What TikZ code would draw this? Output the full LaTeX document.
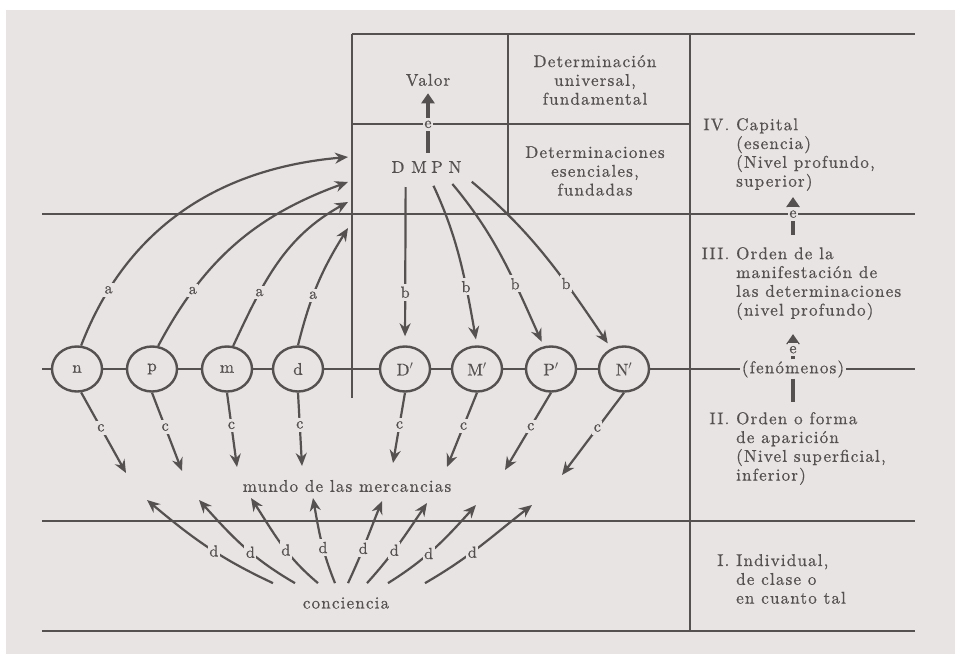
\documentclass[tikz,border=0pt]{standalone}
\usepackage{fontspec}
\setmainfont{lmroman10-regular.otf}[LetterSpace=7,FakeBold=0.7]
\usetikzlibrary{arrows.meta,shapes.geometric}
\definecolor{paper}{RGB}{232,228,227}
\definecolor{ink}{RGB}{86,81,81}
\begin{document}
\begin{tikzpicture}[x=1pt,y=1pt,
  rule/.style={draw=ink,line width=2.4pt},
  term/.style={ellipse,draw=ink,line width=2.4pt,fill=paper,text=ink,minimum width=50pt,minimum height=45pt,inner sep=0pt,font=\fontsize{17}{18.8}\selectfont},
  txt/.style={text=ink,inner sep=1pt,font=\fontsize{17}{18.8}\selectfont},
  lbl/.style={text=ink,fill=paper,inner xsep=1.5pt,inner ysep=3pt,font=\fontsize{16}{16}\selectfont},
  arr/.style={draw=ink,line width=2.2pt,-{Stealth[length=13pt,width=11pt]}},
  bigarr/.style={draw=ink,line width=3.6pt,-{Triangle[length=10pt,width=13pt]}},
  bar/.style={draw=ink,line width=3.6pt}]
\fill[paper] (6,0) rectangle (955,644);
\useasboundingbox (0,0) rectangle (955,654);
% Drawing frame lines
\draw[rule] (352,620) -- (915,620);
\draw[rule] (352,530) -- (690,530);
\draw[rule] (42,440) -- (915,440);
\draw[rule] (42,285) -- (915,285);
\draw[rule] (42,133) -- (915,133);
\draw[rule] (42,23) -- (915,23);
\draw[rule] (352,620) -- (352,256);
\draw[rule] (508,620) -- (508,440);
\draw[rule] (690,620) -- (690,23);
% Done with lines; drawing the row of terms
\node[term] (n) at (77,285) {n};
\node[term] (p) at (152,285) {p};
\node[term] (m) at (227,285) {m};
\node[term] (d) at (298,285) {d};
\node[term] (Dp) at (405,285) {D$'$};
\node[term] (Mp) at (477,285) {M$'$};
\node[term] (Pp) at (551,285) {P$'$};
\node[term] (Np) at (624,285) {N$'$};
% Texts
\node[txt] (valor) at (428,574) {Valor};
\node[txt,align=center] (univ) at (595,574) {Determinación\\universal,\\fundamental};
\node[txt,align=center] (esen) at (595,483) {Determinaciones\\esenciales,\\fundadas};
\node[txt] (lD) at (398,487) {D};
\node[txt] (lM) at (419,487) {M};
\node[txt] (lP) at (437,487) {P};
\node[txt] (lN) at (455,487) {N};
\node[txt] (mundo) at (347,168) {mundo de las mercancias};
\node[txt] (conc) at (346,51) {conciencia};
\node[txt,align=left,anchor=north west] (lvIV) at (735,537) {\llap{IV.~}Capital\\(esencia)\\(Nivel profundo,\\superior)};
\node[txt,align=left,anchor=north west] (lvIII) at (735,408) {\llap{III.~}Orden de la\\manifestación de\\las determinaciones\\(nivel profundo)};
\node[txt,align=left,anchor=north west] (lvII) at (735,243) {\llap{II.~}Orden o forma\\de aparición\\(Nivel superficial,\\inferior)};
\node[txt,align=left,anchor=north west] (lvI) at (735,101) {\llap{I.~}Individual,\\de clase o\\en cuanto tal};
\node[txt,fill=paper,inner xsep=2pt] (fen) at (793,285) {(fenómenos)};
% Free ends
\coordinate (a1) at (348,497);
\coordinate (a2) at (348,472);
\coordinate (a3) at (348,452);
\coordinate (a4) at (348,426);
\coordinate (c1) at (126,181);
\coordinate (c2) at (182,183);
\coordinate (c3) at (237,187);
\coordinate (c4) at (302,188);
\coordinate (c5) at (393,191);
\coordinate (c6) at (447,187);
\coordinate (c7) at (505,184);
\coordinate (c8) at (562,179);
\coordinate (d1) at (147,154);
\coordinate (d2) at (199,154);
\coordinate (d3) at (251,156);
\coordinate (d4) at (313,156);
\coordinate (d5) at (382,153);
\coordinate (d6) at (427,151);
\coordinate (d7) at (476,149);
\coordinate (d8) at (532,149);
% Arrows a: up into the essence
\draw[arr] (n.80) to[out=69,in=185] node[lbl,pos=0.17] {a} (a1);
\draw[arr] (p.75) to[out=62,in=200] node[lbl,pos=0.24] {a} (a2);
\draw[arr] (m.75) to[out=65,in=209] node[lbl,pos=0.3] {a} (a3);
\draw[arr] (d.north) to[out=76,in=238] node[lbl,pos=0.4] {a} (a4);
% Arrows b: down to the forms
\draw[arr,shorten <=13pt,shorten >=9pt] (lD.south east) -- (Dp.north) node[lbl,pos=0.69] {b};
\draw[arr,shorten <=13pt,shorten >=6pt] (lM.south east) to[out=-65,in=100] node[lbl,pos=0.68] {b} (Mp.north);
\draw[arr,shorten <=13pt,shorten >=5pt] (lP.south east) to[out=-50,in=114] node[lbl,pos=0.67] {b} (Pp.108);
\draw[arr,shorten <=12pt,shorten >=6pt] (lN.south east) to[out=-40,in=124] node[lbl,pos=0.67] {b} (Np.122);
% Arrows c: into the world of commodities
\draw[arr] (n.-80) -- (c1) node[lbl,pos=0.44] {c};
\draw[arr] (p.south) -- (c2) node[lbl,pos=0.44] {c};
\draw[arr] (m.south) -- (c3) node[lbl,pos=0.44] {c};
\draw[arr] (d.south) -- (c4) node[lbl,pos=0.44] {c};
\draw[arr] (Dp.south) -- (c5) node[lbl,pos=0.46] {c};
\draw[arr] (Mp.south) -- (c6) node[lbl,pos=0.45] {c};
\draw[arr] (Pp.south) -- (c7) node[lbl,pos=0.44] {c};
\draw[arr] (Np.south) -- (c8) node[lbl,pos=0.43] {c};
% Arrows d: from the consciousness
\draw[arr] ([xshift=-73pt,yshift=13pt]conc.north) to[out=155,in=-40] node[lbl,pos=0.44] {d} (d1);
\draw[arr] ([xshift=-51pt,yshift=13pt]conc.north) to[out=150,in=-48] node[lbl,pos=0.42] {d} (d2);
\draw[arr] ([xshift=-28pt,yshift=13pt]conc.north) to[out=140,in=-57] node[lbl,pos=0.42] {d} (d3);
\draw[arr] ([xshift=-11pt,yshift=13pt]conc.north) to[out=112,in=-80] node[lbl,pos=0.42] {d} (d4);
\draw[arr] ([xshift=2pt,yshift=13pt]conc.north) to[out=65,in=-112] node[lbl,pos=0.42] {d} (d5);
\draw[arr] ([xshift=21pt,yshift=13pt]conc.north) to[out=48,in=-124] node[lbl,pos=0.42] {d} (d6);
\draw[arr] ([xshift=42pt,yshift=13pt]conc.north) to[out=32,in=-132] node[lbl,pos=0.42] {d} (d7);
\draw[arr] ([xshift=79pt,yshift=13pt]conc.north) to[out=30,in=-142] node[lbl,pos=0.42] {d} (d8);
% Arrows e: levels
\draw[bigarr,shorten <=7pt,shorten >=6pt] (lM.north east) -- (valor.south) node[lbl,pos=0.49] {e};
\draw[bigarr,shorten <=11pt,shorten >=5pt] (lvIII.north -| fen) -- (lvIV.south -| fen) node[lbl,pos=0.59] {e};
\draw[bigarr,shorten >=13pt] (fen.north) -- (lvIII.south -| fen) node[lbl,pos=0.25] {e};
\draw[bar,shorten >=9pt] (fen.south) -- (lvII.north -| fen);
\end{tikzpicture}
\end{document}
